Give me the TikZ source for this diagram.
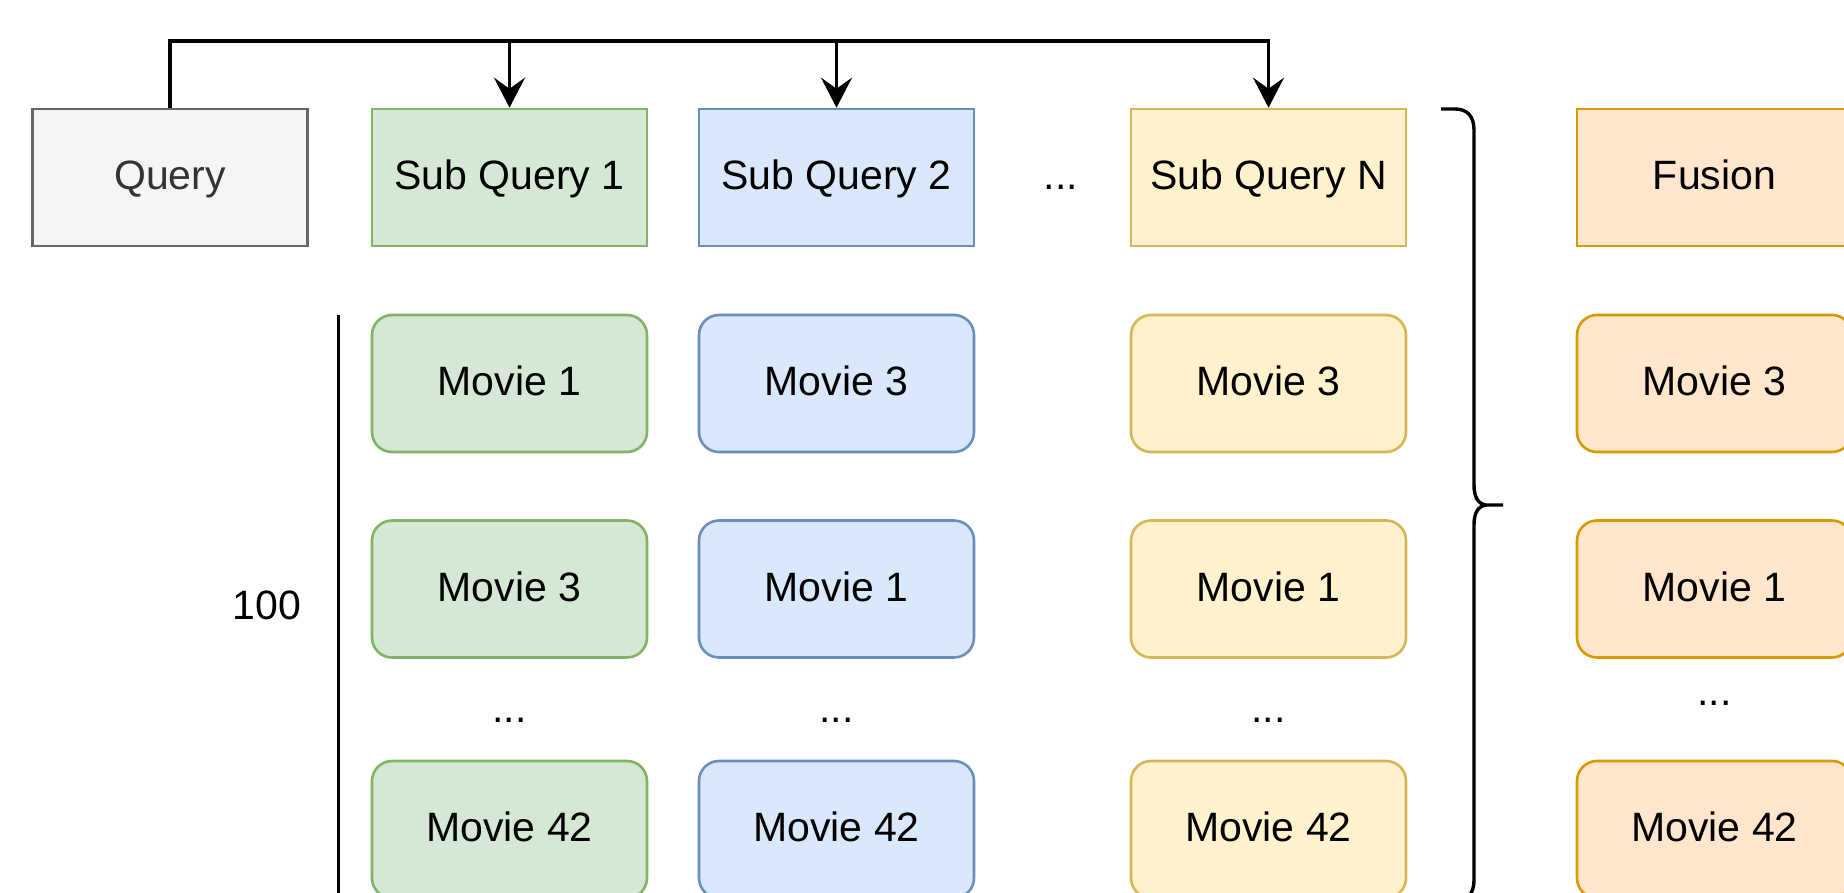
\documentclass[tikz,border=0pt]{standalone}
\usepackage{fontspec}
\setmainfont{Liberation Sans}
\usetikzlibrary{arrows.meta}
\definecolor{qfill}{HTML}{F5F5F5}
\definecolor{qline}{HTML}{666666}
\definecolor{qtext}{HTML}{333333}
\definecolor{gfill}{HTML}{D5E8D4}
\definecolor{gline}{HTML}{82B366}
\definecolor{bfill}{HTML}{DAE8FC}
\definecolor{bline}{HTML}{6C8EBF}
\definecolor{yfill}{HTML}{FFF2CC}
\definecolor{yline}{HTML}{D6B656}
\definecolor{ofill}{HTML}{FFE6CC}
\definecolor{oline}{HTML}{D79B00}
\begin{document}
\begin{tikzpicture}[x=1pt,y=-1pt,
  box/.style={draw, line width=2.6pt, minimum width=275pt, minimum height=137pt,
    inner sep=0pt, font=\fontsize{41}{49}\selectfont, text=black,
    text height=36.9pt, text depth=12pt},
  rbox/.style={box, rounded corners=20pt},
  qbox/.style={box, fill=qfill, draw=qline, text=qtext},
  green/.style={fill=gfill, draw=gline},
  blue/.style={fill=bfill, draw=bline},
  yellow/.style={fill=yfill, draw=yline},
  orange/.style={fill=ofill, draw=oline},
  lbl/.style={inner sep=0pt, font=\fontsize{41}{49}\selectfont, anchor=base},
  conn/.style={line width=3.2pt, -{Stealth[length=30pt,width=31pt,inset=11pt]}},
  plain/.style={line width=3.2pt},
  brace/.style={line width=3.4pt, line join=round}
]
\useasboundingbox (0,0) rectangle (1844,893);
\clip (0,0) rectangle (1844,893);

% header row
\node[qbox] (q) at (170,177.5) {Query};
\node[box, green] (sq1) at (509.5,177.5) {Sub Query 1};
\node[box, blue] (sq2) at (836.5,177.5) {Sub Query 2};
\node[lbl] (hdots) at (1061,190) {...};
\node[box, yellow] (sqn) at (1268.5,177.5) {Sub Query N};
\node[box, orange] (fus) at (1714.5,177.5) {Fusion};

% connectors
\coordinate (bus) at (0,41);
\draw[conn] (q.north) -- (q.north |- bus) -| (sqn.north);
\draw[conn] (sq1.north |- bus) -- (sq1.north);
\draw[conn] (sq2.north |- bus) -- (sq2.north);

% column 1
\node[rbox, green] (a1) at (509.5,383.5) {Movie 1};
\node[rbox, green] (a2) at (509.5,589) {Movie 3};
\node[lbl] (ad) at (509.5,722) {...};
\node[rbox, green] (a3) at (509.5,829.5) {Movie 42};
% column 2
\node[rbox, blue] (b1) at (836.5,383.5) {Movie 3};
\node[rbox, blue] (b2) at (836.5,589) {Movie 1};
\node[lbl] (bd) at (836.5,722) {...};
\node[rbox, blue] (b3) at (836.5,829.5) {Movie 42};
% column N
\node[rbox, yellow] (c1) at (1268.5,383.5) {Movie 3};
\node[rbox, yellow] (c2) at (1268.5,589) {Movie 1};
\node[lbl] (cd) at (1268.5,722) {...};
\node[rbox, yellow] (c3) at (1268.5,829.5) {Movie 42};
% fusion column
\node[rbox, orange] (f1) at (1714.5,383.5) {Movie 3};
\node[rbox, orange] (f2) at (1714.5,589) {Movie 1};
\node[lbl] (fd) at (1714.5,705) {...};
\node[rbox, orange] (f3) at (1714.5,829.5) {Movie 42};

% count marker
\node[lbl] (cnt) at (267,619) {100};
\coordinate (vtop) at (338.5,315);
\coordinate (vbot) at (338.5,900);
\draw[plain] (vtop) -- (vbot);

% curly brace
\draw[brace] (1441,109) -- (1455,109) .. controls (1467,109) and (1474,116) .. (1474,130)
  -- (1474,485) .. controls (1474,497) and (1478,504) .. (1486,505) -- (1503,505);
\draw[brace] (1486,505) .. controls (1478,506) and (1474,513) .. (1474,525)
  -- (1474,880) .. controls (1474,894) and (1467,901) .. (1455,901) -- (1441,901);
\end{tikzpicture}
\end{document}
